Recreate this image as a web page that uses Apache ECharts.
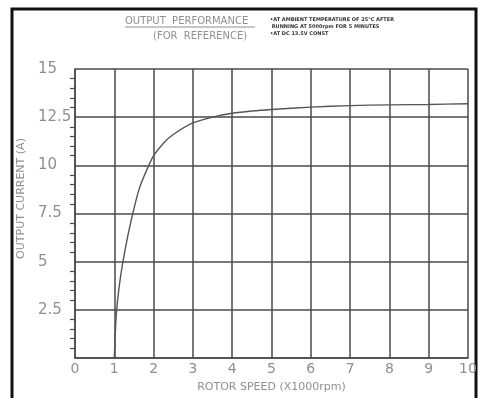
<!DOCTYPE html>
<html>
<head>
<meta charset="utf-8">
<script src="https://cdn.jsdelivr.net/npm/echarts@6/dist/echarts.min.js"></script>
<style>
  html, body { margin: 0; padding: 0; background: #fff; }
  #chart { width: 480px; height: 398px; }
</style>
</head>
<body>
<div id="chart"></div>
<script>
// rotor speed (x1000 rpm) vs output current (A)
const speed = [1, 1.03, 1.06, 1.13, 1.22, 1.34, 1.47, 1.63, 1.77, 1.88, 2, 2.25, 2.5, 3, 3.5, 4, 4.5, 5, 6, 7, 8, 9, 10]
const current = [0, 1.5, 2.5, 3.8, 5, 6.3, 7.5, 8.75, 9.5, 10, 10.5, 11.15, 11.6, 12.2, 12.5, 12.7, 12.82, 12.9, 13.02, 13.1, 13.14, 13.16, 13.2]
const notes = [
  '•AT AMBIENT TEMPERATURE OF 25°C AFTER',
  ' RUNNING AT 5000rpm FOR 5 MINUTES',
  '•AT DC 13.5V CONST'
]

const gridColor = '#4a4a4a'
const textColor = '#8f8f8f'
const font = 'DejaVu Sans'

const chart = echarts.init(document.getElementById('chart'))
chart.setOption({
  backgroundColor: '#fff',
  animation: false,
  grid: { left: 75, right: 12, top: 69, bottom: 36 },
  xAxis: {
    type: 'value',
    min: 0,
    max: 10,
    interval: 1,
    name: 'ROTOR SPEED (X1000rpm)',
    nameLocation: 'middle',
    nameGap: 24,
    nameTextStyle: { color: textColor, fontSize: 11, fontFamily: font },
    axisLine: { show: true, lineStyle: { color: gridColor, width: 1.5 } },
    axisTick: { show: false },
    axisLabel: { color: textColor, fontSize: 14, fontFamily: font, margin: 4 },
    splitLine: { show: true, lineStyle: { color: gridColor, width: 1.5 } }
  },
  yAxis: {
    type: 'value',
    min: 0,
    max: 15,
    interval: 2.5,
    name: 'OUTPUT CURRENT (A)',
    nameLocation: 'middle',
    nameGap: 43,
    nameTextStyle: { color: textColor, fontSize: 11, fontFamily: font, padding: [0, 0, 0, 30] },
    axisLine: { show: true, lineStyle: { color: gridColor, width: 1.5 } },
    axisTick: { show: false },
    minorTick: { show: true, splitNumber: 5, length: 5, lineStyle: { color: gridColor, width: 1.2 } },
    axisLabel: {
      color: textColor, fontSize: 15, fontFamily: font, margin: 37, align: 'left',
      formatter: v => (v === 0 ? '' : String(v))
    },
    splitLine: { show: true, lineStyle: { color: gridColor, width: 1.5 } }
  },
  graphic: [
    {
      type: 'rect',
      shape: { x: 12, y: 9, width: 464, height: 400 },
      style: { fill: 'none', stroke: '#111', lineWidth: 3 },
      silent: true
    },
    {
      type: 'text',
      left: 125, top: 16,
      style: { text: 'OUTPUT  PERFORMANCE', fill: textColor, fontSize: 10, fontFamily: font }
    },
    {
      type: 'line',
      shape: { x1: 125, y1: 27, x2: 255, y2: 27 },
      style: { stroke: textColor, lineWidth: 1 }
    },
    {
      type: 'text',
      left: 153, top: 31,
      style: { text: '(FOR  REFERENCE)', fill: textColor, fontSize: 10, fontFamily: font }
    },
    {
      type: 'text',
      left: 270, top: 16,
      style: { text: notes.join('\n'), fill: '#333', fontSize: 5, lineHeight: 7, fontWeight: 'bold', fontFamily: font }
    }
  ],
  series: [
    {
      type: 'line',
      data: speed.map((s, i) => [s, current[i]]),
      smooth: 0.3,
      showSymbol: false,
      lineStyle: { color: '#555', width: 1.4 }
    }
  ]
})
</script>
</body>
</html>
